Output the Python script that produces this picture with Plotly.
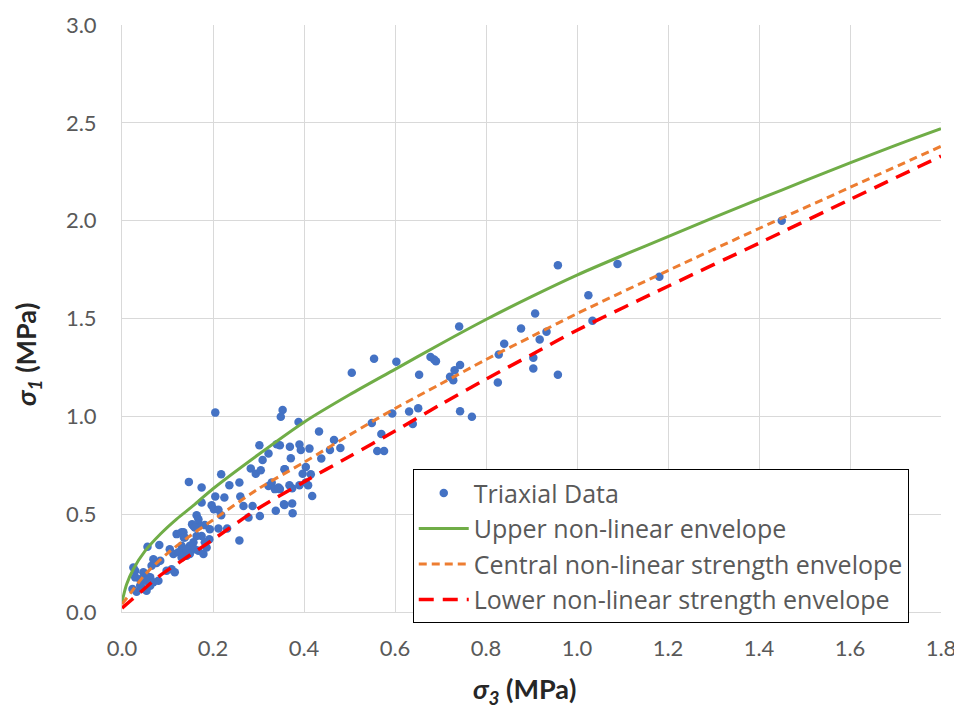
import plotly.graph_objects as go

# Triaxial data (sigma3, sigma1) in MPa
data_s3 = [0.958, 1.089, 1.181, 1.025, 0.908, 0.741, 0.877, 1.034, 0.933, 0.918, 0.840, 0.828,
           0.904, 0.904, 0.958, 0.826, 0.743, 0.731, 0.721, 0.728, 0.743, 0.769, 1.450,
           0.554, 0.603, 0.505, 0.678, 0.686, 0.690, 0.653, 0.353, 0.349, 0.388, 0.549, 0.594,
           0.631, 0.651, 0.639, 0.433, 0.570, 0.466, 0.369, 0.390, 0.393, 0.412, 0.457, 0.480,
           0.561, 0.576, 0.371, 0.438, 0.357, 0.404, 0.397, 0.415, 0.368, 0.374, 0.390, 0.409,
           0.404, 0.418, 0.357, 0.374, 0.375, 0.347, 0.347,
           0.205, 0.302, 0.340, 0.322, 0.309, 0.283, 0.294, 0.305, 0.218, 0.147, 0.175, 0.236,
           0.258, 0.205, 0.225, 0.260, 0.267, 0.287, 0.175, 0.197, 0.202, 0.212, 0.218, 0.303,
           0.278, 0.322, 0.329, 0.336, 0.344, 0.338, 0.356, 0.358, 0.164, 0.157, 0.171, 0.182,
           0.193, 0.212, 0.231, 0.258, 0.192, 0.182, 0.186, 0.175, 0.164, 0.157, 0.149, 0.160,
           0.168, 0.179, 0.135, 0.138, 0.131, 0.135, 0.146, 0.142,
           0.154, 0.168, 0.160, 0.131, 0.120, 0.136, 0.056, 0.082, 0.105, 0.113, 0.124, 0.131,
           0.142, 0.149, 0.069, 0.076, 0.065, 0.084, 0.025, 0.029, 0.098, 0.109, 0.116, 0.047,
           0.054, 0.062, 0.051, 0.040, 0.069, 0.080, 0.062, 0.029, 0.023, 0.032, 0.047, 0.054,
           0.040]
data_s1 = [1.772, 1.779, 1.713, 1.619, 1.525, 1.459, 1.449, 1.488, 1.432, 1.393, 1.371, 1.316,
           1.299, 1.245, 1.213, 1.173, 1.262, 1.235, 1.202, 1.185, 1.026, 0.998, 2.000,
           1.294, 1.279, 1.223, 1.303, 1.291, 1.281, 1.213, 1.032, 0.998, 0.971, 0.966, 1.015,
           1.025, 1.041, 0.961, 0.922, 0.910, 0.879, 0.845, 0.856, 0.828, 0.835, 0.828, 0.838,
           0.823, 0.823, 0.786, 0.784, 0.730, 0.741, 0.706, 0.704, 0.648, 0.633, 0.648, 0.648,
           0.662, 0.593, 0.547, 0.555, 0.505, 0.852, 0.628,
           1.019, 0.852, 0.857, 0.810, 0.777, 0.733, 0.706, 0.724, 0.704, 0.665, 0.636, 0.648,
           0.662, 0.590, 0.585, 0.590, 0.542, 0.542, 0.560, 0.546, 0.525, 0.522, 0.495, 0.491,
           0.483, 0.644, 0.662, 0.628, 0.636, 0.517, 0.551, 0.730, 0.495, 0.440, 0.444, 0.444,
           0.423, 0.427, 0.427, 0.366, 0.372, 0.356, 0.330, 0.389, 0.389, 0.356, 0.338, 0.321,
           0.313, 0.296, 0.407, 0.381, 0.338, 0.313, 0.305, 0.287,
           0.449, 0.474, 0.432, 0.407, 0.398, 0.381, 0.333, 0.342, 0.321, 0.296, 0.305, 0.279,
           0.321, 0.296, 0.270, 0.250, 0.236, 0.262, 0.228, 0.211, 0.211, 0.219, 0.203, 0.203,
           0.185, 0.177, 0.160, 0.168, 0.152, 0.160, 0.134, 0.177, 0.117, 0.104, 0.117, 0.109,
           0.134]

# Envelopes
upper_s3 = [0.0, 0.01, 0.025, 0.05, 0.085, 0.12, 0.16, 0.2, 0.3, 0.4, 0.5, 0.6, 0.7, 0.8,
            0.9, 1.0, 1.1, 1.2, 1.3, 1.4, 1.5, 1.6, 1.7, 1.8]
upper_s1 = [0.05, 0.14, 0.22, 0.31, 0.40, 0.475, 0.55, 0.63, 0.805, 0.97, 1.11, 1.24, 1.37, 1.495,
            1.612, 1.722, 1.822, 1.918, 2.015, 2.11, 2.203, 2.295, 2.385, 2.47]

central_s3 = [0.0, 0.02, 0.05, 0.1, 0.15, 0.2, 0.3, 0.4, 0.5, 0.6, 0.7, 0.8, 0.9, 1.0, 1.2,
              1.4, 1.6, 1.8]
central_s1 = [0.04, 0.10, 0.19, 0.30, 0.39, 0.47, 0.63, 0.765, 0.905, 1.04, 1.165, 1.29, 1.408,
              1.525, 1.745, 1.96, 2.17, 2.38]

lower_s3 = [0.0, 0.02, 0.04, 0.08, 0.13, 0.2, 0.3, 0.4, 0.5, 0.6, 0.7, 0.8, 0.9, 1.0, 1.2,
            1.4, 1.6, 1.8]
lower_s1 = [0.02, 0.06, 0.10, 0.18, 0.26, 0.37, 0.53, 0.665, 0.795, 0.925, 1.06, 1.19, 1.315,
            1.44, 1.665, 1.885, 2.108, 2.33]

x_ticks = [0.0, 0.2, 0.4, 0.6, 0.8, 1.0, 1.2, 1.4, 1.6, 1.8]
y_ticks = [0.0, 0.5, 1.0, 1.5, 2.0, 2.5, 3.0]

FONT = "Lato"
fig = go.Figure()
fig.add_trace(go.Scatter(x=data_s3, y=data_s1, mode="markers", name="Triaxial Data",
                         marker=dict(color="#4472C4", size=8.5)))
fig.add_trace(go.Scatter(x=upper_s3, y=upper_s1, mode="lines", name="Upper non-linear envelope",
                         line=dict(color="#70AD47", width=3, shape="spline", smoothing=0.8)))
fig.add_trace(go.Scatter(x=central_s3, y=central_s1, mode="lines",
                         name="Central non-linear strength envelope",
                         line=dict(color="#ED7D31", width=3, dash="8px,5px", shape="spline", smoothing=0.8)))
fig.add_trace(go.Scatter(x=lower_s3, y=lower_s1, mode="lines",
                         name="Lower non-linear strength envelope",
                         line=dict(color="#FF0000", width=3.5, dash="15px,9px", shape="spline", smoothing=0.8)))

# The page body adds an 8px offset, so the figure is sized to fit the window.
fig.update_layout(
    width=954, height=700,
    margin=dict(l=114, r=21, t=17, b=96, autoexpand=False),
    paper_bgcolor="white", plot_bgcolor="white",
    font=dict(family=FONT, color="#595959", size=22),
    showlegend=True,
    legend=dict(x=0.355, y=0.243, xanchor="left", yanchor="top",
                bgcolor="white", bordercolor="#000000", borderwidth=1,
                font=dict(family="Open Sans", size=25, color="#595959"),
                itemwidth=50, tracegroupgap=0),
    xaxis=dict(range=[0, 1.8], tickvals=x_ticks, ticktext=[f"{v:.1f}" for v in x_ticks],
               showgrid=True, gridcolor="#D9D9D9", gridwidth=1, automargin=False,
               zeroline=False, showline=True, linecolor="#D9D9D9", linewidth=1,
               ticks="outside", ticklen=17, tickcolor="rgba(0,0,0,0)",
               tickfont=dict(size=22, color="#595959")),
    yaxis=dict(range=[0, 3.0], tickvals=y_ticks, ticktext=[f"{v:.1f}" for v in y_ticks],
               showgrid=True, gridcolor="#D9D9D9", gridwidth=1, automargin=False,
               zeroline=False, showline=True, linecolor="#D9D9D9", linewidth=1,
               ticks="outside", ticklen=20, tickcolor="rgba(0,0,0,0)",
               tickfont=dict(size=22, color="#595959")),
    annotations=[
        dict(text="<b><i>σ<sub>3</sub></i> (MPa)</b>", xref="paper", yref="paper",
             x=0.492, y=0, yanchor="middle", xanchor="center", yshift=-78,
             showarrow=False, font=dict(family=FONT, size=27, color="#262626")),
        dict(text="<b><i>σ<sub>1</sub></i> (MPa)</b>", xref="paper", yref="paper",
             x=0, y=0.438, xanchor="center", yanchor="middle", xshift=-94, textangle=-90,
             showarrow=False, font=dict(family=FONT, size=27, color="#262626")),
    ],
)

fig.write_html("out.html")
